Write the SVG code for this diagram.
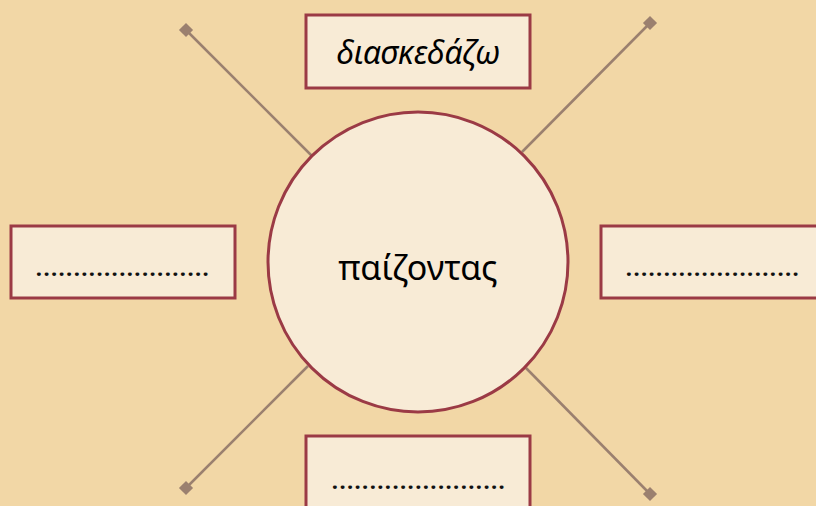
<svg xmlns="http://www.w3.org/2000/svg" width="816" height="506" viewBox="0 0 816 506">
<defs>
<style>
.box{fill:#F8EBD6;stroke:#9B3A45;stroke-width:3}
.conn{stroke:#9B806F;stroke-width:2.5;fill:none}
.dia{fill:#9B806F}
.t{font-family:"Noto Sans","DejaVu Sans",sans-serif;fill:#000;text-anchor:middle}
.dots{font-family:"Noto Sans","DejaVu Sans",sans-serif;font-size:22px;font-weight:bold;fill:#111;text-anchor:middle;letter-spacing:1.4px}
</style>
</defs>
<rect width="816" height="506" fill="#F2D7A6"/>
<g id="connectors">
<line class="conn" x1="186" y1="30" x2="312" y2="156"/>
<line class="conn" x1="650" y1="23" x2="522" y2="152"/>
<line class="conn" x1="186" y1="488" x2="308" y2="366"/>
<line class="conn" x1="650" y1="494" x2="526" y2="368"/>
<rect class="dia" x="-5" y="-5" width="10" height="10" transform="translate(186,30) rotate(45)"/>
<rect class="dia" x="-5" y="-5" width="10" height="10" transform="translate(650,23) rotate(45)"/>
<rect class="dia" x="-5" y="-5" width="10" height="10" transform="translate(186,488) rotate(45)"/>
<rect class="dia" x="-5" y="-5" width="10" height="10" transform="translate(650,494) rotate(45)"/>
</g>
<g id="center">
<circle cx="418" cy="262" r="150" fill="#F8EBD6" stroke="#9B3A45" stroke-width="3"/>
<text class="t" x="418" y="280" font-size="34">παίζοντας</text>
</g>
<g id="top">
<rect class="box" x="306" y="15" width="224" height="73"/>
<text class="t" x="418" y="64" font-size="32" font-style="italic">διασκεδάζω</text>
</g>
<g id="left">
<rect class="box" x="11" y="226" width="224" height="72"/>
<text class="dots" x="123" y="276">.......................</text>
</g>
<g id="right">
<rect class="box" x="601" y="226" width="228" height="72"/>
<text class="dots" x="713" y="276">.......................</text>
</g>
<g id="bottom">
<rect class="box" x="306" y="436" width="224" height="80"/>
<text class="dots" x="419" y="489">.......................</text>
</g>
</svg>
